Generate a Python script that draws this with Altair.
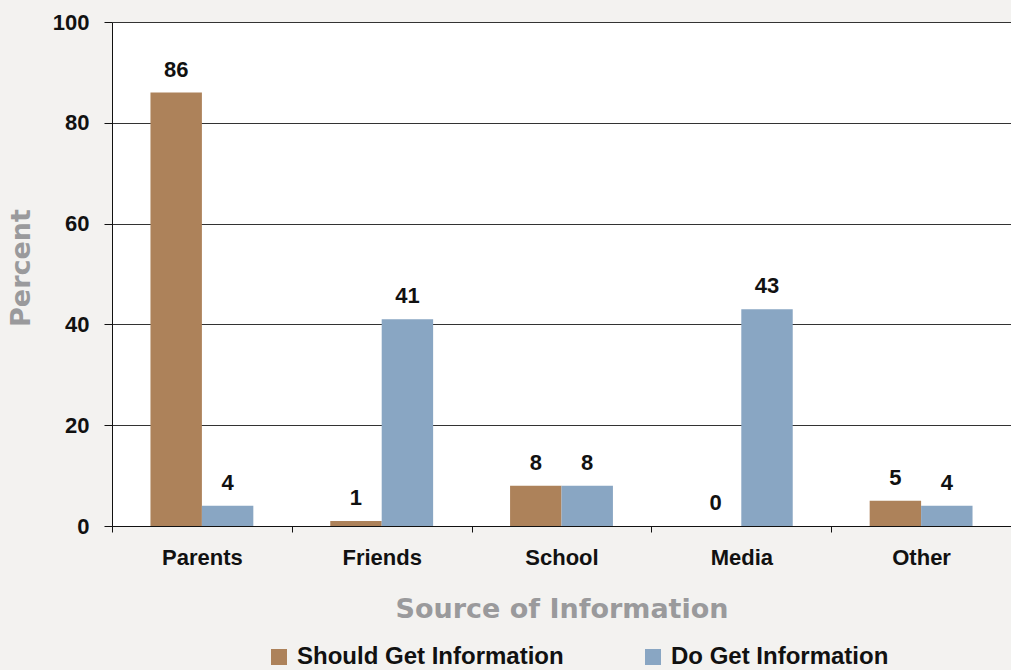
import altair as alt
import pandas as pd

categories = ["Parents", "Friends", "School", "Media", "Other"]
series_names = ["Should Get Information", "Do Get Information"]
should_values = [86, 1, 8, 0, 5]
do_values = [4, 41, 8, 43, 4]
y_ticks = [0, 20, 40, 60, 80, 100]
colors = ["#ad825a", "#89a6c3"]

rows = []
for i, c in enumerate(categories):
    rows.append({"source": c, "series": series_names[0], "value": should_values[i]})
    rows.append({"source": c, "series": series_names[1], "value": do_values[i]})
df = pd.DataFrame(rows)

FONT = "Liberation Sans"
TITLE_FONT = "DejaVu Sans"
TXT = "#111111"
GREY = "#9a9a9c"

x_enc = alt.X(
    "source:N",
    sort=categories,
    scale=alt.Scale(paddingInner=0, paddingOuter=0),
    axis=alt.Axis(
        title="Source of Information",
        labelAngle=0,
        labelFontSize=22,
        labelFontWeight="bold",
        labelColor=TXT,
        labelFont=FONT,
        labelPadding=15,
        tickSize=6,
        tickBand="extent",
        tickColor=TXT,
        domainColor=TXT,
        titleFont=TITLE_FONT,
        titleFontSize=27,
        titleColor=GREY,
        titleFontWeight="bold",
        titleX=449.5,
        titleY=91,
        titleBaseline="alphabetic",
        titleAlign="center",
    ),
)
xoff_enc = alt.XOffset(
    "series:N",
    sort=series_names,
    scale=alt.Scale(paddingInner=0, paddingOuter=0.748),
)
y_enc = alt.Y(
    "value:Q",
    scale=alt.Scale(domain=[0, 100], nice=False),
    axis=alt.Axis(
        values=y_ticks,
        title="Percent",
        grid=True,
        gridColor="#333333",
        gridWidth=1,
        tickSize=8,
        tickColor=TXT,
        domainColor=TXT,
        labelPadding=15,
        labelFontSize=22,
        labelFontWeight="bold",
        labelColor=TXT,
        labelFont=FONT,
        titleFont=TITLE_FONT,
        titleFontSize=27,
        titleFontWeight="bold",
        titleColor=GREY,
        titleAngle=-90,
        titleX=-83,
        titleY=245.5,
        titleAlign="center",
        titleBaseline="alphabetic",
    ),
)

bars = alt.Chart(df).mark_bar().encode(
    x=x_enc,
    xOffset=xoff_enc,
    y=y_enc,
    color=alt.Color(
        "series:N",
        sort=series_names,
        scale=alt.Scale(domain=series_names, range=colors),
        legend=alt.Legend(
            title=None,
            orient="none",
            legendX=155,
            legendY=623,
            direction="horizontal",
            symbolType="square",
            symbolSize=256,
            symbolStrokeWidth=0,
            labelFontSize=24,
            labelFontWeight="bold",
            labelColor=TXT,
            labelFont=FONT,
            labelOffset=6,
            labelLimit=0,
            columnPadding=77,
            padding=0,
        ),
    ),
)

labels = alt.Chart(df).mark_text(
    dy=-16,
    baseline="alphabetic",
    fontSize=22,
    fontWeight="bold",
    font=FONT,
    color=TXT,
).encode(
    x=x_enc,
    xOffset=xoff_enc,
    y=y_enc,
    text="value:Q",
)

chart = (
    alt.layer(bars, labels)
    .properties(
        width=899,
        height=504,
        padding={"left": 112, "top": 22, "right": 0, "bottom": 144},
        autosize=alt.AutoSizeParams(type="none"),
        background="#f3f2f0",
    )
    .configure(font=FONT)
    .configure_view(fill="white", stroke="transparent")
)

chart.save("out.html", embed_options={"renderer": "svg", "actions": False})
